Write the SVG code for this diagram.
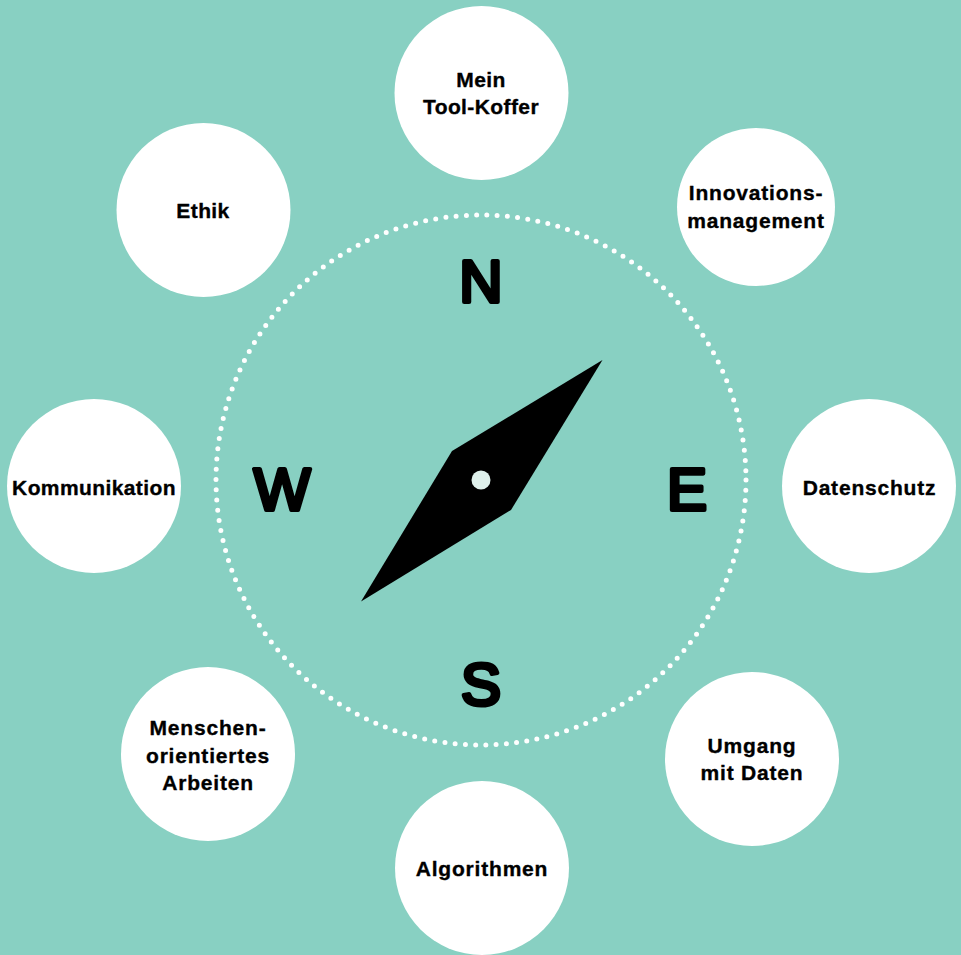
<svg xmlns="http://www.w3.org/2000/svg" width="961" height="955" viewBox="0 0 961 955">
<style>
.n{fill:#fff}
text{font-family:"Liberation Sans",Arial,sans-serif;fill:#000;stroke:#000;stroke-linejoin:round;stroke-linecap:round;text-anchor:middle}
.t{font-size:21px;font-weight:700;letter-spacing:.4px;stroke-width:.35px}
.w{letter-spacing:.8px}
.c{font-size:60px;font-weight:400;stroke-width:4.2px}
</style>
<rect width="961" height="955" fill="#88d0c2"/>
<g id="connectors">
<circle cx="481" cy="480" r="265" fill="none" stroke="#fff" stroke-width="5" stroke-linecap="round" stroke-dasharray="0 10.28"/>
</g>
<g id="compass">
<path d="M602.500 360L452 451L361 601.500L511 510Z" fill="#000"/>
<circle cx="481" cy="480" r="9.500" fill="#dff1ec"/>
<text class="c" x="481" y="302">N</text>
<text class="c" x="687" y="510">E</text>
<text class="c" x="481" y="705">S</text>
<text class="c" x="282" y="510">W</text>
</g>
<g id="tool"><circle class="n" cx="481.500" cy="93" r="87"/><text class="t" x="481" y="87">Mein</text><text class="t" x="481" y="114">Tool-Koffer</text></g>
<g id="innovation"><circle class="n" cx="756" cy="207" r="79"/><text class="t w" x="756" y="200">Innovations-</text><text class="t w" x="756" y="228">management</text></g>
<g id="datenschutz"><circle class="n" cx="869" cy="486" r="87"/><text class="t w" x="869.500" y="495">Datenschutz</text></g>
<g id="umgang"><circle class="n" cx="752" cy="759" r="87"/><text class="t w" x="752" y="753">Umgang</text><text class="t w" x="752" y="780">mit Daten</text></g>
<g id="algorithmen"><circle class="n" cx="482" cy="868" r="87"/><text class="t w" x="482" y="876">Algorithmen</text></g>
<g id="menschen"><circle class="n" cx="208" cy="754" r="87"/><text class="t w" x="208" y="735">Menschen-</text><text class="t w" x="208" y="763">orientiertes</text><text class="t w" x="208" y="790">Arbeiten</text></g>
<g id="kommunikation"><circle class="n" cx="94" cy="486" r="87"/><text class="t" x="94" y="495">Kommunikation</text></g>
<g id="ethik"><circle class="n" cx="203.500" cy="210" r="87"/><text class="t" x="203" y="218">Ethik</text></g>
</svg>
